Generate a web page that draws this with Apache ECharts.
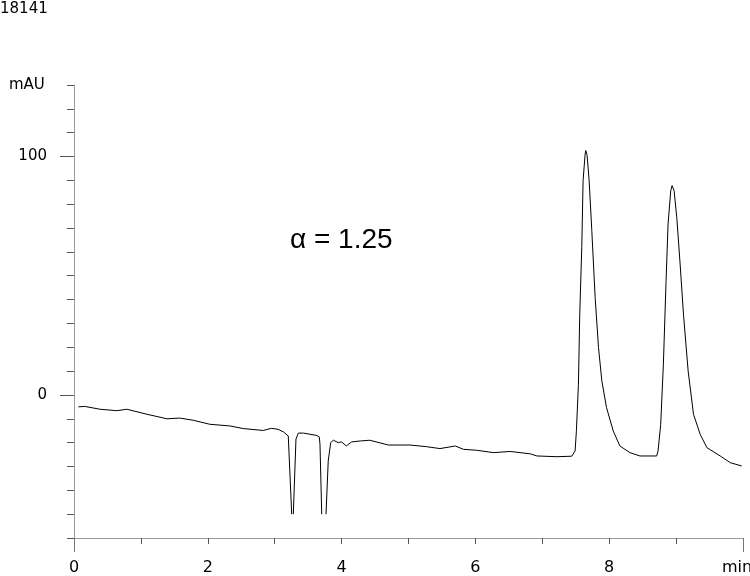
<!DOCTYPE html>
<html>
<head>
<meta charset="utf-8">
<script src="https://cdn.jsdelivr.net/npm/echarts@6/dist/echarts.min.js"></script>
<style>
html,body{margin:0;padding:0;background:#fff;}
#chart{width:750px;height:576px;}
</style>
</head>
<body>
<div id="chart"></div>
<script>
// Retention time (min)
const times = [
  0.065, 0.16, 0.39, 0.64, 0.79, 1.09, 1.39, 1.58, 1.78, 2.03, 2.33, 2.53, 2.83, 2.95, 3.05, 3.13,
  3.203, 3.254, 3.266, 3.278, 3.318, 3.353, 3.43, 3.63, 3.667, 3.677, 3.703, 3.735, 3.767, 3.80, 3.837, 3.876,
  3.95, 4.0, 4.07, 4.15, 4.28, 4.42, 4.70, 5.02, 5.27, 5.47, 5.70, 5.82, 6.02, 6.27, 6.52, 6.82,
  6.92, 7.22, 7.44, 7.49, 7.51, 7.54, 7.56, 7.59, 7.61, 7.64, 7.65, 7.67, 7.70, 7.74, 7.79, 7.84,
  7.89, 7.96, 8.06, 8.16, 8.31, 8.46, 8.71, 8.73, 8.77, 8.81, 8.85, 8.88, 8.92, 8.94, 8.97, 9.01,
  9.06, 9.11, 9.18, 9.26, 9.36, 9.46, 9.66, 9.81, 9.98
];
// Absorbance (mAU); null = trace goes off-scale below the plot
const absorbance = [
  -5.0, -4.8, -6.0, -6.6, -6.0, -8.1, -10.0, -9.7, -10.6, -12.3, -13.0, -14.1, -14.9, -14.0, -14.4, -15.5,
  -17.2, -50, null, -50, -18.5, -16.0, -16.0, -17.0, -17.6, -20.8, -50, null, -50, -27.7, -20.0, -19.0,
  -20.0, -19.7, -21.4, -19.7, -19.3, -19.0, -21.0, -21.0, -21.7, -22.5, -21.4, -22.8, -23.2, -24.2, -23.7, -24.7,
  -25.6, -25.9, -25.7, -23.5, -15.0, 4.5, 34.0, 61.9, 90.0, 101.0, 102.5, 100.4, 90.0, 69.0, 40.9, 19.9,
  5.9, -5.3, -15.1, -21.4, -24.2, -25.6, -25.6, -23.5, -12.3, 12.9, 47.9, 71.7, 85.7, 87.8, 85.7, 74.5,
  54.9, 33.9, 10.0, -8.1, -16.5, -22.1, -25.6, -28.4, -29.8
];
// Axis labels
const xLabelValues = [0, 2, 4, 6, 8, 10];
const xLabelTexts = ['0', '2', '4', '6', '8', 'min'];
const yLabelValues = [0, 100];
const sampleId = '18141';
const unitLabel = 'mAU';
const alphaText = 'α = 1.25';

const seriesData = times.map((t, i) => [t, absorbance[i] === null ? '-' : absorbance[i]]);

const chart = echarts.init(document.getElementById('chart'), null, {renderer: 'canvas'});
const fontFam = 'DejaVu Sans';
chart.setOption({
  animation: false,
  backgroundColor: '#fff',
  grid: {left: 74, right: 7, top: 85, bottom: 38, containLabel: false, outerBoundsMode: 'none'},
  xAxis: [
    {
      type: 'value', min: 0, max: 10, interval: 1,
      axisLine: {show: true, onZero: false, lineStyle: {color: '#9a9a9a', width: 1}},
      axisTick: {show: true, length: 6, lineStyle: {color: '#555'}},
      axisLabel: {
        show: true, margin: 22, color: '#000', fontFamily: fontFam, fontSize: 16,
        customValues: xLabelValues,
        formatter: v => {
          const t = xLabelTexts[xLabelValues.indexOf(v)] ?? '';
          return v === 10 ? '{u|' + t + '}' : t;
        },
        rich: {u: {fontFamily: fontFam, fontSize: 16, color: '#000', padding: [0, 12, 0, 0]}}
      },
      splitLine: {show: false}
    },
    {
      type: 'value', min: 0, max: 10, position: 'bottom',
      axisLine: {show: false, onZero: false},
      axisTick: {show: true, length: 14, customValues: [0, 10], lineStyle: {color: '#777'}},
      axisLabel: {show: false},
      splitLine: {show: false}
    }
  ],
  yAxis: [
    {
      type: 'value', min: -60, max: 130, interval: 10,
      axisLine: {show: true, onZero: false, lineStyle: {color: '#9a9a9a', width: 1}},
      axisTick: {show: true, length: 7, lineStyle: {color: '#555'}},
      axisLabel: {show: false},
      splitLine: {show: false}
    },
    {
      type: 'value', min: -60, max: 130, position: 'left',
      axisLine: {show: false, onZero: false},
      axisTick: {show: true, length: 14, customValues: yLabelValues, lineStyle: {color: '#555'}},
      axisLabel: {
        show: true, margin: 27, color: '#000', fontFamily: fontFam, fontSize: 15,
        customValues: yLabelValues
      },
      splitLine: {show: false}
    }
  ],
  graphic: [
    {type: 'text', left: 0, top: 2, style: {text: sampleId, fill: '#000', font: '15px "DejaVu Sans"'}},
    {type: 'text', left: 9, top: 78, style: {text: unitLabel, fill: '#000', font: '15px "DejaVu Sans"'}},
    {type: 'text', left: 290, top: 226, style: {text: alphaText, fill: '#000', font: '28px "Liberation Sans"'}}
  ],
  series: [{
    type: 'line',
    xAxisIndex: 0, yAxisIndex: 0,
    data: seriesData,
    showSymbol: false,
    smooth: false,
    connectNulls: false,
    lineStyle: {color: '#000', width: 1},
    silent: true
  }]
});
</script>
</body>
</html>
